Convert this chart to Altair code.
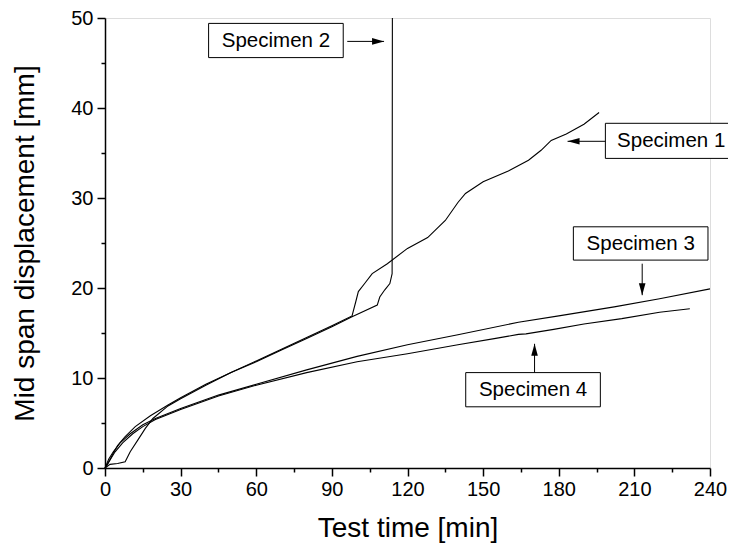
import altair as alt
import pandas as pd

# ---- data ----
t1 = [0, 1, 3, 5, 8, 12, 18, 25, 30, 40, 50, 60, 70, 80, 90, 98, 99.5, 100.5, 103, 106, 112, 120, 128, 135, 140, 143, 150, 160, 168, 173, 177, 183, 190, 196]
v1 = [0, 0.4, 1.5, 2.5, 3.5, 4.6, 5.8, 7.0, 7.8, 9.3, 10.6, 11.9, 13.2, 14.5, 15.8, 16.9, 18.5, 19.6, 20.5, 21.6, 22.7, 24.4, 25.6, 27.5, 29.5, 30.5, 31.8, 33.0, 34.2, 35.3, 36.4, 37.1, 38.2, 39.5]

t2 = [0, 2, 5, 8, 10, 13, 16, 19, 25, 30, 40, 50, 60, 70, 80, 90, 98, 108, 109, 111, 113, 113.9, 114]
v2 = [0, 0.4, 0.5, 0.7, 1.8, 3.1, 4.4, 5.5, 6.9, 7.7, 9.2, 10.6, 11.8, 13.1, 14.4, 15.7, 16.8, 18.1, 19.0, 19.8, 20.5, 21.6, 50]

t3 = [0, 1.5, 3.3, 6, 10, 15, 20, 30, 45, 60, 80, 100, 120, 140, 164, 180, 202, 220, 240]
v3 = [0, 1.0, 1.8, 2.8, 3.8, 4.8, 5.5, 6.6, 8.1, 9.3, 10.9, 12.4, 13.7, 14.8, 16.2, 16.9, 17.9, 18.8, 19.9]

t4 = [0, 2, 4, 7, 11, 15, 20, 30, 45, 60, 80, 100, 120, 140, 155, 164, 167, 178, 190, 205, 220, 232]
v4 = [0, 0.9, 1.8, 2.8, 3.8, 4.6, 5.4, 6.5, 8.0, 9.2, 10.6, 11.8, 12.7, 13.7, 14.4, 14.85, 14.9, 15.4, 16.0, 16.6, 17.3, 17.7]

names = ["Specimen 1", "Specimen 2", "Specimen 3", "Specimen 4"]

x_major = list(range(0, 241, 30))
x_minor = list(range(15, 241, 30))
y_major = list(range(0, 51, 10))
y_minor = list(range(5, 51, 10))

# annotation boxes (data units): label, left, right, bottom, top, text x, text y
box_label = ["Specimen 2", "Specimen 1", "Specimen 3", "Specimen 4"]
box_x1 = [41.1, 198.5, 185.8, 143.1]
box_x2 = [94.5, 252.0, 239.2, 196.5]
box_y1 = [45.6, 34.4, 23.1, 6.8]
box_y2 = [49.4, 38.3, 26.8, 10.6]
box_tx = [67.8, 224.6, 212.5, 169.8]
box_ty = [47.5, 36.3, 24.9, 8.7]

# arrows: start, tip, direction angle
arr_x1 = [96.1, 198.5, 213.1, 170.4]
arr_y1 = [47.4, 36.3, 22.7, 10.6]
arr_x2 = [110.7, 183.5, 213.1, 170.4]
arr_y2 = [47.4, 36.3, 19.2, 13.8]
arr_ang = [0, 180, 90, 270]

# ---- tables ----
rows = []
for name, ts, vs in zip(names, [t1, t2, t3, t4], [v1, v2, v3, v4]):
    for i, (t, v) in enumerate(zip(ts, vs)):
        rows.append({"specimen": name, "t": t, "v": v, "i": i})
df = pd.DataFrame(rows)

boxes = pd.DataFrame({"label": box_label, "x1": box_x1, "x2": box_x2,
                      "y1": box_y1, "y2": box_y2, "tx": box_tx, "ty": box_ty})
arrows = pd.DataFrame({"x1": arr_x1, "y1": arr_y1, "x2": arr_x2, "y2": arr_y2, "ang": arr_ang})

FONT = "Liberation Sans"
xs = alt.Scale(domain=[0, 240], nice=False, zero=False)
ys = alt.Scale(domain=[0, 50], nice=False, zero=False)

common_axis = dict(grid=False, domainColor="black", domainWidth=1.5, tickColor="black",
                   tickWidth=1.5, labelColor="black", labelFont=FONT, titleFont=FONT,
                   titleColor="black", labelFontSize=20, titleFontSize=28,
                   titleFontWeight="normal")

x_ax = alt.Axis(values=x_major, title="Test time [min]", tickSize=8, labelPadding=3,
                titlePadding=15, orient="bottom", labelFlush=False, **common_axis)
y_ax = alt.Axis(values=y_major, title="Mid span displacement [mm]", tickSize=8,
                labelPadding=4, titlePadding=31, orient="left", **common_axis)
x_ax_minor = alt.Axis(values=x_minor, title=None, labels=False, domain=False, tickSize=4,
                      tickColor="black", tickWidth=1.5, grid=False, orient="bottom")
y_ax_minor = alt.Axis(values=y_minor, title=None, labels=False, domain=False, tickSize=4,
                      tickColor="black", tickWidth=1.5, grid=False, orient="left")

lines = alt.Chart(df).mark_line(color="black", strokeWidth=1.1).encode(
    x=alt.X("t:Q", scale=xs, axis=x_ax),
    y=alt.Y("v:Q", scale=ys, axis=y_ax),
    detail="specimen:N",
    order="i:Q",
)

minor = alt.Chart(df).mark_point(opacity=0).encode(
    x=alt.X("t:Q", scale=xs, axis=x_ax_minor),
    y=alt.Y("v:Q", scale=ys, axis=y_ax_minor),
)

rects = alt.Chart(boxes).mark_rect(fill="white", stroke="black", strokeWidth=1).encode(
    x=alt.X("x1:Q", axis=None), x2="x2:Q",
    y=alt.Y("y1:Q", axis=None), y2="y2:Q")

texts = alt.Chart(boxes).mark_text(font=FONT, fontSize=20.5, color="black",
                                   align="center", baseline="middle").encode(
    x=alt.X("tx:Q", axis=None), y=alt.Y("ty:Q", axis=None), text="label:N")

arrow_lines = alt.Chart(arrows).mark_rule(color="black", strokeWidth=1).encode(
    x=alt.X("x1:Q", axis=None), y=alt.Y("y1:Q", axis=None), x2="x2:Q", y2="y2:Q")

heads = alt.Chart(arrows).mark_point(shape="M0,0L-4,-1.1L-4,1.1Z", filled=True,
                                     color="black", opacity=1, size=36).encode(
    x=alt.X("x2:Q", axis=None), y=alt.Y("y2:Q", axis=None),
    angle=alt.Angle("ang:Q", scale=None))

chart = alt.layer(lines, minor, rects, texts, arrow_lines, heads).resolve_axis(
    x="independent", y="independent"
).properties(
    width=605, height=450,
    autosize=alt.AutoSizeParams(type="none"),
    padding={"left": 97, "top": 10, "right": 18, "bottom": 82},
).configure_view(stroke=None).configure(background="white")

chart.save("out.html", embed_options={"renderer": "svg", "actions": False})
